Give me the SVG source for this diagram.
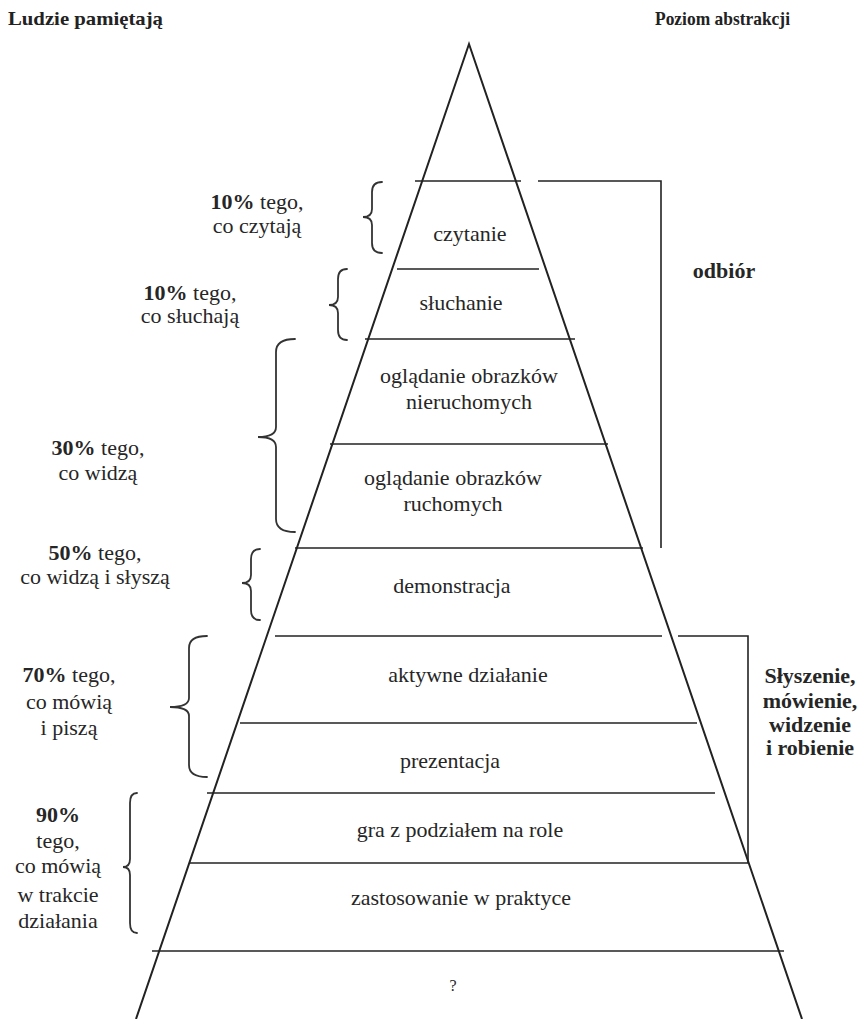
<svg xmlns="http://www.w3.org/2000/svg" width="858" height="1019" viewBox="0 0 858 1019">
<style>
.t{font-family:"Liberation Serif","Times New Roman",serif;font-size:22px;fill:#262626;text-anchor:middle}
.b{font-weight:bold}
.h{font-family:"Liberation Serif","Times New Roman",serif;font-size:19px;font-weight:bold;fill:#222}
.ln{stroke:#222;stroke-width:1.6;fill:none}
.side{stroke:#222;stroke-width:2;fill:none}
.br{stroke:#333;stroke-width:1.8;fill:none;stroke-linecap:round}
</style>
<rect width="858" height="1019" fill="#fff"/>
<g id="headers">
<text class="h" x="8" y="25" textLength="155" lengthAdjust="spacingAndGlyphs">Ludzie pamiętają</text>
<text class="h" x="655" y="25" textLength="135" lengthAdjust="spacingAndGlyphs">Poziom abstrakcji</text>
</g>
<g id="pyramid">
<path class="side" d="M136,1019 L469,44 L802,1019"/>
</g>
<g id="connectors">
<line class="ln" x1="415" y1="181" x2="521" y2="181"/>
<line class="ln" x1="397" y1="269" x2="539" y2="269"/>
<line class="ln" x1="365" y1="339" x2="575" y2="339"/>
<line class="ln" x1="330" y1="444" x2="608" y2="444"/>
<line class="ln" x1="295" y1="548" x2="643" y2="548"/>
<line class="ln" x1="275" y1="636" x2="662" y2="636"/>
<line class="ln" x1="240" y1="723" x2="697" y2="723"/>
<line class="ln" x1="207" y1="793" x2="715" y2="793"/>
<line class="ln" x1="190" y1="863" x2="748" y2="863"/>
<line class="ln" x1="152" y1="951" x2="784" y2="951"/>
<path class="ln" d="M538,181 H661 V548"/>
<path class="ln" d="M678,636 H748 V863"/>
</g>
<g id="braces">
<path class="br" d="M382,182 Q372,182 372,192 L372,209 Q372,217 363,217 Q372,217 372,225 L372,243 Q372,253 382,253"/>
<path class="br" d="M347,269 Q338,269 338,279 L338,297 Q338,305 329,305 Q338,305 338,313 L338,330 Q338,340 347,340"/>
<path class="br" d="M295,339 Q276,339 276,352 L276,427 Q276,437 258,437 Q276,437 276,447 L276,519 Q276,532 295,532"/>
<path class="br" d="M260,549 Q251,549 251,559 L251,575 Q251,583 242,583 Q251,583 251,591 L251,610 Q251,620 260,620"/>
<path class="br" d="M207,636 Q189,636 189,648 L189,698 Q189,707 170,707 Q189,707 189,716 L189,765 Q189,777 207,777"/>
<path class="br" d="M137,793 Q130,793 130,803 L130,859 Q130,867 123,867 Q130,867 130,875 L130,923 Q130,933 137,933"/>
</g>
<g id="level-czytanie"><text class="t" x="470" y="241">czytanie</text></g>
<g id="level-sluchanie"><text class="t" x="461" y="310">słuchanie</text></g>
<g id="level-nieruchome"><text class="t" x="469" y="383">oglądanie obrazków</text><text class="t" x="469" y="409">nieruchomych</text></g>
<g id="level-ruchome"><text class="t" x="453" y="485">oglądanie obrazków</text><text class="t" x="453" y="511">ruchomych</text></g>
<g id="level-demonstracja"><text class="t" x="452" y="593">demonstracja</text></g>
<g id="level-aktywne"><text class="t" x="468" y="682">aktywne działanie</text></g>
<g id="level-prezentacja"><text class="t" x="450" y="768">prezentacja</text></g>
<g id="level-gra"><text class="t" x="460" y="837">gra z podziałem na role</text></g>
<g id="level-zastosowanie"><text class="t" x="461" y="905">zastosowanie w praktyce</text></g>
<g id="level-q"><text class="t" x="453" y="991" style="font-size:16px">?</text></g>
<g id="label-10a"><text class="t" x="257" y="209"><tspan class="b">10%</tspan> tego,</text><text class="t" x="257" y="233">co czytają</text></g>
<g id="label-10b"><text class="t" x="190" y="300"><tspan class="b">10%</tspan> tego,</text><text class="t" x="190" y="323">co słuchają</text></g>
<g id="label-30"><text class="t" x="98" y="455"><tspan class="b">30%</tspan> tego,</text><text class="t" x="98" y="480">co widzą</text></g>
<g id="label-50"><text class="t" x="95" y="560"><tspan class="b">50%</tspan> tego,</text><text class="t" x="95" y="584">co widzą i słyszą</text></g>
<g id="label-70"><text class="t" x="69" y="682"><tspan class="b">70%</tspan> tego,</text><text class="t" x="69" y="709">co mówią</text><text class="t" x="69" y="735">i piszą</text></g>
<g id="label-90"><text class="t b" x="58" y="822">90%</text><text class="t" x="58" y="848">tego,</text><text class="t" x="58" y="873">co mówią</text><text class="t" x="58" y="902">w trakcie</text><text class="t" x="58" y="928">działania</text></g>
<g id="label-odbior"><text class="t b" x="724" y="278">odbiór</text></g>
<g id="label-robienie"><text class="t b" x="810" y="683">Słyszenie,</text><text class="t b" x="810" y="708">mówienie,</text><text class="t b" x="810" y="732">widzenie</text><text class="t b" x="810" y="755">i robienie</text></g>
</svg>
